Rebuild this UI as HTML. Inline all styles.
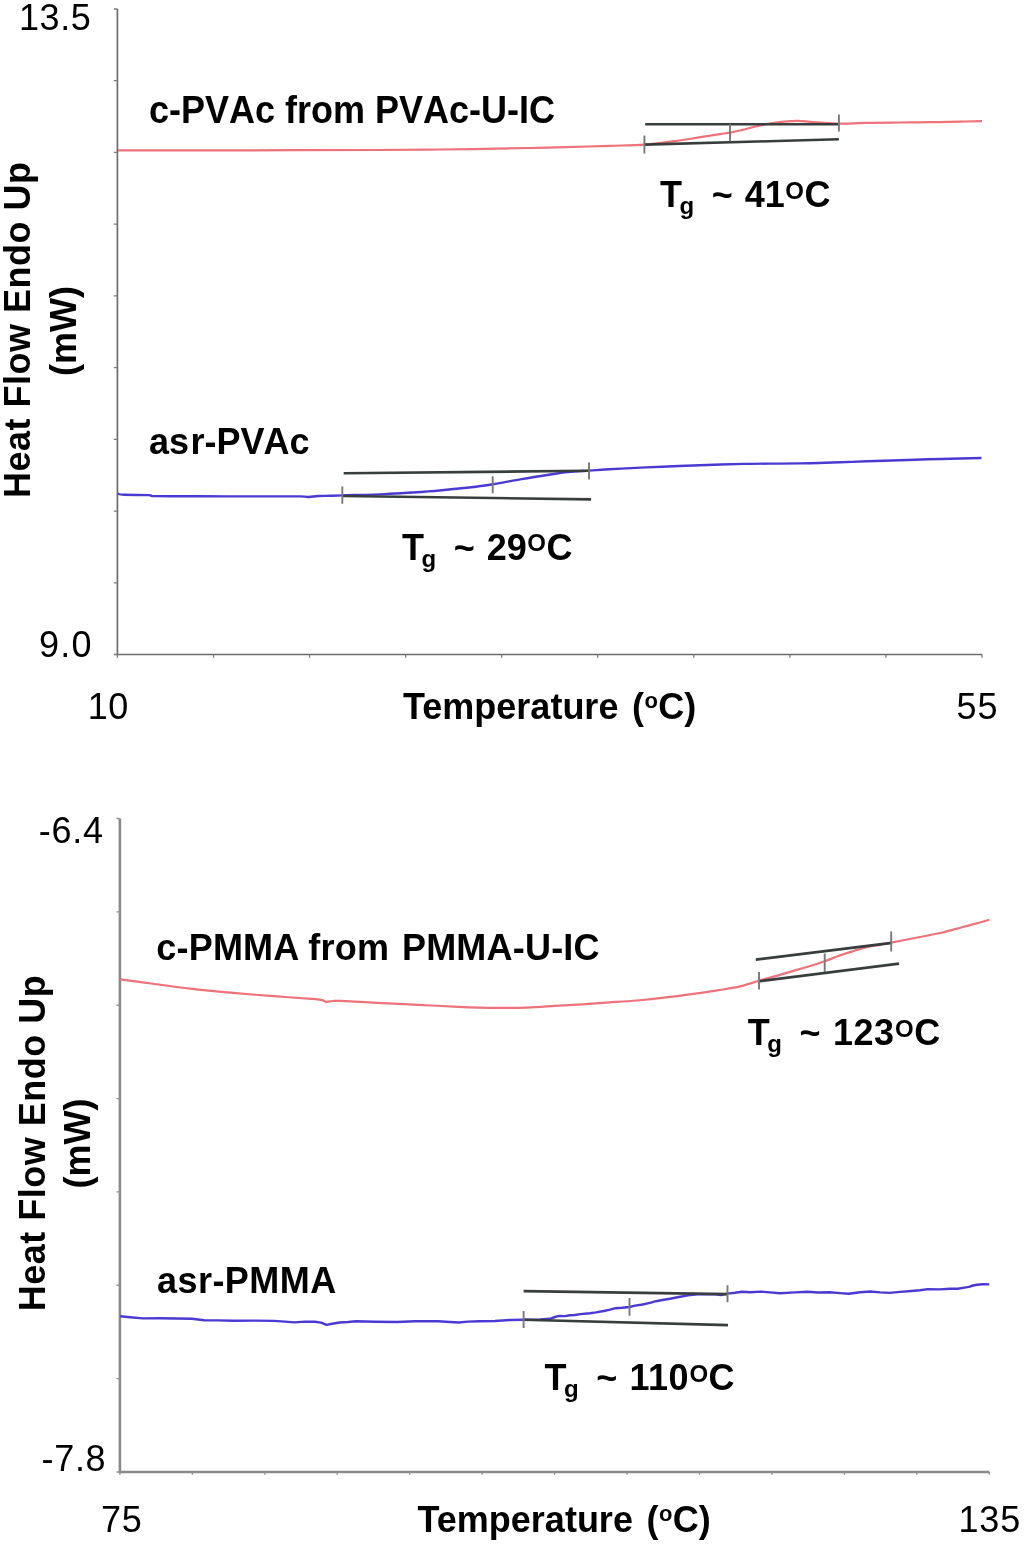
<!DOCTYPE html>
<html lang="en">
<head>
<meta charset="utf-8">
<title>DSC thermograms</title>
<style>
html,body{margin:0;padding:0;background:#fff;}
body{width:1024px;height:1548px;overflow:hidden;font-family:"Liberation Sans",sans-serif;}
svg{display:block;filter:blur(0.45px);}
text{font-family:"Liberation Sans",sans-serif;fill:#000;}
.n{font-size:36px;}
.b{font-size:36px;font-weight:bold;}
.nk{font-kerning:none;}
.sub{font-size:24px;font-weight:bold;}
.sup{font-size:24px;font-weight:bold;}
.deg{font-size:22px;font-weight:bold;}
.ax{stroke:#6c6c6c;stroke-width:1.7;fill:none;}
.ax2{stroke:#8a8a8a;stroke-width:2.6;fill:none;}
.tk{stroke:#7a7a7a;stroke-width:1.3;fill:none;}
.tk2{stroke:#929292;stroke-width:1.4;fill:none;}
.red{stroke:#ee727a;stroke-width:2.2;fill:none;stroke-linejoin:round;}
.blue{stroke:#4a3ad2;stroke-width:2.4;fill:none;stroke-linejoin:round;}
.tan{stroke:#383d3d;stroke-width:2.6;fill:none;}
.vt{stroke:#787878;stroke-width:1.9;fill:none;}
</style>
</head>
<body>
<svg width="1024" height="1548" viewBox="0 0 1024 1548">
<rect width="1024" height="1548" fill="#ffffff"/>

<!-- top plot -->
<path class="ax" d="M117.4,9 V654.5 H982"/>
<path class="tk" d="M113.8,9.0 h3.6 M113.8,80.7 h3.6 M113.8,152.4 h3.6 M113.8,224.2 h3.6 M113.8,295.9 h3.6 M113.8,367.6 h3.6 M113.8,439.3 h3.6 M113.8,511.1 h3.6 M113.8,582.8 h3.6 M113.8,654.5 h3.6 M117.4,654.5 v3.2 M213.5,654.5 v3.2 M309.5,654.5 v3.2 M405.6,654.5 v3.2 M501.7,654.5 v3.2 M597.7,654.5 v3.2 M693.8,654.5 v3.2 M789.9,654.5 v3.2 M885.9,654.5 v3.2 M982.0,654.5 v3.2"/>
<path class="red" d="M118.0,150.4 C140.0,150.4 206.7,150.4 250.0,150.3 C293.3,150.2 346.3,150.1 378.0,150.0 C409.7,149.9 422.0,149.7 440.0,149.5 C458.0,149.3 471.0,149.1 486.0,148.8 C501.0,148.6 516.7,148.3 530.0,148.0 C543.3,147.7 552.7,147.6 566.0,147.2 C579.3,146.8 596.9,146.2 610.0,145.8 C623.1,145.4 633.8,145.4 644.6,144.6 C655.4,143.8 666.2,142.2 675.0,141.1 C683.8,139.9 689.9,138.9 697.4,137.7 C704.9,136.5 714.4,134.9 719.8,134.1 C725.2,133.2 726.2,133.3 730.0,132.6 C733.8,131.9 738.0,130.9 742.3,129.9 C746.6,128.9 752.0,127.4 755.8,126.5 C759.5,125.6 761.4,125.0 764.8,124.3 C768.2,123.6 772.3,123.0 776.0,122.5 C779.7,122.0 783.5,121.6 787.2,121.3 C791.0,121.0 794.8,120.8 798.5,120.9 C802.2,121.0 806.0,121.5 809.7,121.8 C813.4,122.1 816.2,122.4 820.9,122.7 C825.6,123.0 831.3,123.5 837.8,123.6 C844.3,123.7 854.5,123.2 860.0,123.1 C865.5,123.0 864.3,122.9 871.0,122.8 C877.7,122.7 890.0,122.6 900.0,122.5 C910.0,122.4 920.7,122.4 930.7,122.2 C940.7,122.0 951.5,121.8 960.0,121.6 C968.5,121.4 978.3,121.2 982.0,121.1"/>
<path class="blue" d="M118.0,493.8 C119.0,494.0 118.8,494.6 124.0,494.8 C129.2,495.0 143.8,494.9 149.0,495.1 C154.2,495.3 146.5,495.9 155.0,496.1 C163.5,496.3 183.2,496.2 200.0,496.3 C216.8,496.4 239.3,496.4 256.0,496.4 C272.7,496.4 291.2,496.3 300.0,496.4 C308.8,496.5 306.0,497.1 309.0,497.0 C312.0,496.9 314.5,496.2 318.0,496.0 C321.5,495.8 325.9,495.9 330.0,495.8 C334.1,495.7 333.2,495.7 342.3,495.4 C351.4,495.1 373.1,494.6 384.7,494.1 C396.3,493.6 402.9,493.1 412.0,492.5 C421.1,491.9 430.3,491.3 439.4,490.5 C448.5,489.7 457.8,488.8 466.7,487.8 C475.6,486.8 483.6,485.8 492.7,484.3 C501.8,482.9 512.0,480.7 521.4,479.1 C530.8,477.5 541.0,475.9 548.8,474.7 C556.5,473.5 561.2,472.7 567.9,472.0 C574.6,471.3 582.8,471.0 589.0,470.6 C595.2,470.2 599.7,469.8 605.0,469.5 C610.3,469.2 611.5,469.1 621.0,468.6 C630.5,468.1 648.8,467.3 662.0,466.7 C675.2,466.1 686.3,465.7 700.0,465.2 C713.7,464.7 730.7,464.2 744.0,463.9 C757.3,463.6 769.0,463.7 780.0,463.6 C791.0,463.5 800.0,463.4 810.0,463.2 C820.0,463.0 830.5,462.6 840.0,462.3 C849.5,462.0 857.0,461.7 867.0,461.3 C877.0,460.9 889.8,460.5 900.0,460.2 C910.2,459.9 918.0,459.6 928.0,459.3 C938.0,459.0 951.1,458.7 960.0,458.5 C968.9,458.3 977.9,458.1 981.5,458.0"/>
<path class="tan" d="M645.2,124.2 L838,124.2 M644.6,144.6 L838.9,139.3"/>
<path class="vt" d="M644.4,135.6 V153.6 M730,124 V141.6 M838.9,114.6 V131.6"/>
<path class="tan" d="M343.7,473.3 L589.2,470.8 M342.3,496 L591.1,499.4"/>
<path class="vt" d="M342.3,486.4 V503.7 M492.7,476.3 V493.3 M589,462.5 V479.6"/>
<text class="n" x="19" y="29.7" letter-spacing="0.6">13.5</text>
<text class="n" x="39" y="657.2" letter-spacing="1.3">9.0</text>
<text class="n" x="87.7" y="719" letter-spacing="0.6">10</text>
<text class="n" x="956.6" y="719" letter-spacing="1">55</text>
<text class="b nk" transform="translate(149,122.5) scale(1,1.058)">c-PVAc from PVAc-U-IC</text>
<text class="b" x="149" y="454.4">as<tspan dx="1.5">r-PV</tspan><tspan dx="1.7">Ac</tspan></text>
<text class="b" x="403" y="718.5">Temperature <tspan dx="3.5">(</tspan><tspan class="deg" dx="0.5" dy="-11">o</tspan><tspan dy="11" dx="0.5">C)</tspan></text>
<text class="b" x="660" y="207.3">T<tspan class="sub" dx="-2.5" dy="7">g</tspan><tspan dy="-7" dx="7.5"> ~</tspan><tspan dx="2" letter-spacing="0"> 41</tspan><tspan class="sup" dx="0.5" dy="-8.5">O</tspan><tspan dy="8.5" dx="0.5">C</tspan></text>
<text class="b" x="402" y="559.5">T<tspan class="sub" dx="-2.5" dy="7">g</tspan><tspan dy="-7" dx="7.5"> ~</tspan><tspan dx="2" letter-spacing="0"> 29</tspan><tspan class="sup" dx="0.5" dy="-8.5">O</tspan><tspan dy="8.5" dx="0.5">C</tspan></text>
<text class="b" text-anchor="middle" letter-spacing="0.5" transform="translate(29.8,329.8) rotate(-90)">Heat Flow Endo Up</text>
<text class="b" text-anchor="middle" transform="translate(75.7,331) rotate(-90)">(mW)</text>
<!-- bottom plot -->
<path class="ax2" d="M119.9,818.5 V1472 H989.3"/>
<path class="tk2" d="M116.4,818.5 h3.5 M116.4,911.9 h3.5 M116.4,1005.2 h3.5 M116.4,1098.6 h3.5 M116.4,1191.9 h3.5 M116.4,1285.3 h3.5 M116.4,1378.6 h3.5 M116.4,1472.0 h3.5 M119.9,1472 v2.8 M192.4,1472 v2.8 M264.8,1472 v2.8 M337.2,1472 v2.8 M409.7,1472 v2.8 M482.1,1472 v2.8 M554.6,1472 v2.8 M627.1,1472 v2.8 M699.5,1472 v2.8 M771.9,1472 v2.8 M844.4,1472 v2.8 M916.8,1472 v2.8 M989.3,1472 v2.8"/>
<path class="red" d="M120.3,979.4 C125.4,980.1 139.1,981.9 151.0,983.5 C162.9,985.1 178.3,987.2 192.0,988.8 C205.7,990.4 219.3,991.7 233.0,992.9 C246.7,994.1 260.3,995.2 274.0,996.2 C287.7,997.2 307.0,998.5 315.0,999.2 C323.0,999.9 320.1,999.8 322.0,1000.2 C323.9,1000.6 324.8,1001.7 326.6,1001.8 C328.4,1001.9 330.8,1001.1 333.0,1001.0 C335.2,1000.9 332.4,1000.6 339.7,1000.9 C347.0,1001.2 363.6,1002.1 376.6,1002.8 C389.6,1003.4 403.9,1004.1 417.6,1004.8 C431.3,1005.5 448.4,1006.3 458.6,1006.8 C468.8,1007.3 472.1,1007.4 479.0,1007.6 C485.9,1007.8 491.9,1007.9 500.0,1007.9 C508.1,1007.9 518.2,1007.9 527.3,1007.6 C536.4,1007.3 545.6,1006.5 554.7,1005.9 C563.8,1005.3 572.9,1004.9 582.0,1004.3 C591.1,1003.7 600.3,1003.0 609.4,1002.4 C618.5,1001.8 627.6,1001.3 636.7,1000.5 C645.8,999.7 654.9,998.8 664.0,997.7 C673.1,996.7 682.3,995.5 691.4,994.2 C700.5,992.9 710.6,991.4 718.8,990.1 C726.9,988.8 733.3,988.0 740.0,986.4 C746.7,984.8 751.7,982.9 759.0,980.8 C766.3,978.7 775.5,976.1 784.0,973.6 C792.5,971.1 803.5,968.0 810.3,966.0 C817.1,964.0 820.0,963.0 824.7,961.3 C829.4,959.6 833.5,957.8 838.4,956.0 C843.3,954.2 849.6,952.3 854.3,950.8 C859.0,949.3 862.2,948.2 866.6,947.2 C871.0,946.2 876.5,945.4 880.6,944.6 C884.7,943.8 884.6,943.9 891.2,942.6 C897.8,941.3 911.6,938.6 920.0,937.0 C928.4,935.4 934.5,934.4 941.5,932.8 C948.5,931.2 956.4,928.8 962.0,927.3 C967.6,925.8 970.4,925.0 975.0,923.8 C979.6,922.5 987.0,920.5 989.4,919.8"/>
<path class="blue" d="M120.3,1316.3 L130.0,1317.2 L142.8,1318.4 L160.0,1318.3 L192.0,1318.8 L204.3,1320.3 L218.0,1320.4 L233.0,1320.8 L255.0,1320.6 L274.0,1320.9 L285.0,1321.6 L294.6,1322.4 L305.0,1321.6 L315.0,1321.7 L321.0,1322.6 L326.6,1324.9 L332.0,1323.8 L339.7,1322.5 L348.0,1322.0 L356.0,1321.3 L375.0,1321.8 L397.0,1322.0 L415.0,1321.3 L438.0,1321.3 L450.0,1322.0 L458.6,1322.5 L468.0,1321.6 L479.0,1321.3 L495.0,1321.0 L510.0,1320.0 L523.6,1319.7 L540.0,1319.4 L549.8,1318.8 L555.0,1317.0 L559.2,1315.9 L565.0,1316.1 L570.0,1315.2 L575.0,1315.0 L580.3,1314.1 L590.0,1313.2 L596.0,1312.4 L603.8,1311.0 L610.0,1309.6 L615.5,1308.2 L622.0,1307.8 L629.5,1307.0 L635.0,1305.6 L641.2,1304.7 L650.0,1302.9 L656.0,1301.2 L662.3,1300.0 L670.0,1298.8 L678.8,1297.0 L688.0,1295.4 L697.5,1294.2 L705.0,1294.3 L713.9,1294.1 L720.9,1295.0 L727.5,1293.6 L735.0,1292.8 L742.0,1291.7 L750.0,1292.3 L761.0,1291.6 L770.0,1292.4 L780.0,1293.2 L795.0,1292.4 L807.5,1291.8 L818.0,1292.5 L829.4,1292.3 L840.0,1293.1 L848.5,1293.7 L860.0,1292.3 L870.4,1291.5 L880.0,1292.4 L889.5,1292.9 L900.0,1291.9 L911.4,1291.0 L920.0,1290.2 L927.8,1289.1 L940.0,1289.4 L950.0,1288.7 L957.9,1288.8 L963.0,1287.9 L968.8,1286.9 L973.0,1285.5 L977.0,1284.7 L983.0,1284.3 L989.3,1284.4"/>
<path class="tan" d="M755.8,959.6 L892,942.9 M759.3,981.2 L899.1,963.6"/>
<path class="vt" d="M759,971.9 V989.4 M824.7,953.4 V971.9 M891.2,931.4 V951.6"/>
<path class="tan" d="M523.6,1291.1 L728,1294.1 M523.6,1319.7 L728,1325.1"/>
<path class="vt" d="M523.6,1311 V1328.1 M629.5,1298.1 V1315.7 M727.5,1285.2 V1302.3"/>
<text class="n" x="38.8" y="843" letter-spacing="0.7">-6.4</text>
<text class="n" x="41.5" y="1470.7" letter-spacing="0.7">-7.8</text>
<text class="n" x="101" y="1531.7" letter-spacing="0.8">75</text>
<text class="n" x="958.5" y="1531.7" letter-spacing="0.8">135</text>
<text class="b" x="156.3" y="960" letter-spacing="0.2">c-PMMA from<tspan dx="2.6"> PMMA-U-IC</tspan></text>
<text class="b" x="157" y="1293" letter-spacing="0.45">asr-PMMA</text>
<text class="b" x="417.5" y="1531.5">Temperature <tspan dx="3.5">(</tspan><tspan class="deg" dx="0.5" dy="-11">o</tspan><tspan dy="11" dx="0.5">C)</tspan></text>
<text class="b" x="747.8" y="1045">T<tspan class="sub" dx="-2.5" dy="7">g</tspan><tspan dy="-7" dx="7.5"> ~</tspan><tspan dx="2" letter-spacing="0.5"> 123</tspan><tspan class="sup" dx="0.5" dy="-8.5">O</tspan><tspan dy="8.5" dx="0.5">C</tspan></text>
<text class="b" x="544.5" y="1390">T<tspan class="sub" dx="-2.5" dy="7">g</tspan><tspan dy="-7" dx="7.5"> ~</tspan><tspan dx="2" letter-spacing="0.4"> 110</tspan><tspan class="sup" dx="0.5" dy="-8.5">O</tspan><tspan dy="8.5" dx="0.5">C</tspan></text>
<text class="b" text-anchor="middle" letter-spacing="0.5" transform="translate(45.4,1143) rotate(-90)">Heat Flow Endo Up</text>
<text class="b" text-anchor="middle" transform="translate(89.6,1143.5) rotate(-90)">(mW)</text>
</svg>
</body>
</html>
